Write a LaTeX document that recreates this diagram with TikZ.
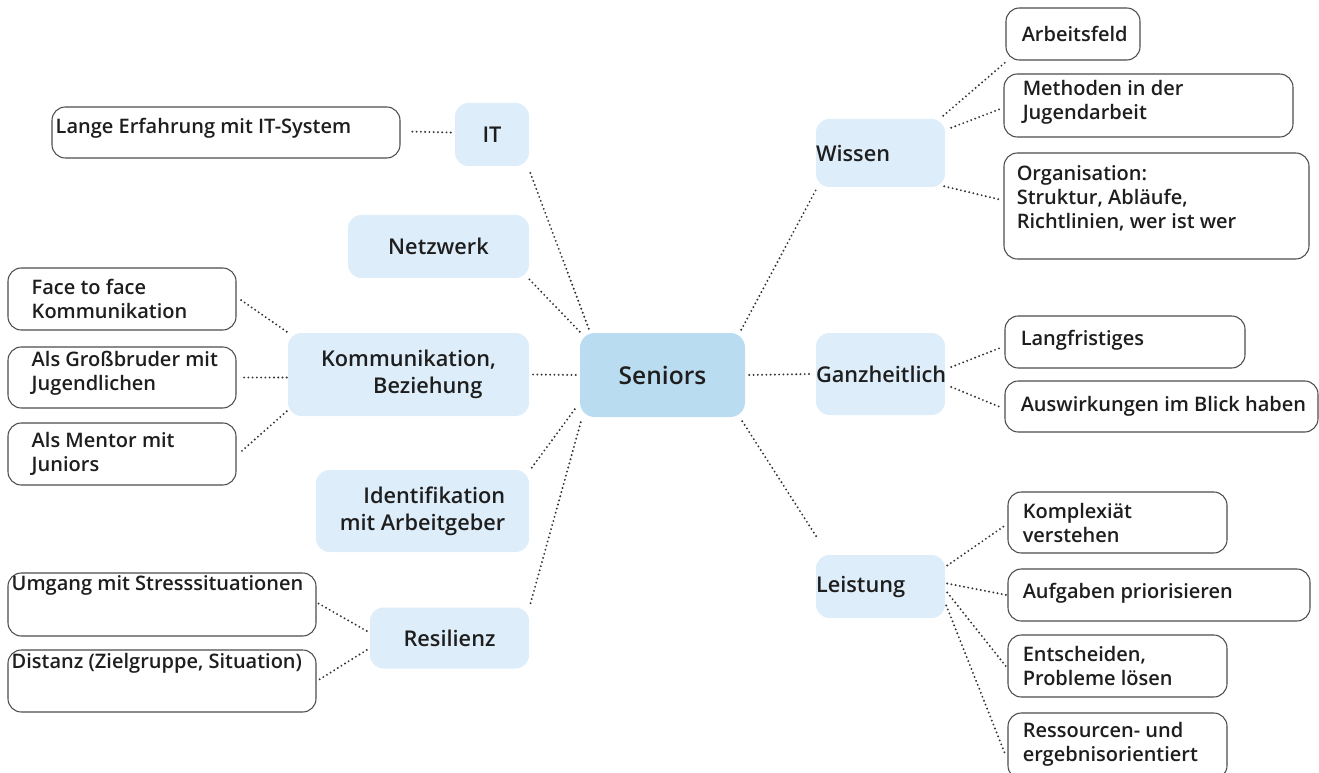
\documentclass[tikz,border=0pt]{standalone}
\usepackage{fontspec}
\IfFontExistsTF{Open Sans Semibold}{\setmainfont{Open Sans}[BoldFont={Open Sans Semibold}]}{\setmainfont{Open Sans}}
\usetikzlibrary{calc}
\definecolor{cenfill}{HTML}{BADCF1}
\definecolor{lonefill}{HTML}{DEEDFA}
\definecolor{txt}{HTML}{1E1E1E}
\definecolor{conncol}{HTML}{333333}
\newcommand\leafnode[8]{%
  \node[leafbox, bsz={#4}{#5}] (#1) at (#2,#3) {};
  \node[leaftext, anchor=west] (#1t) at ($(#1.west)+(#6,#7)$) {#8};}
\begin{document}
\begin{tikzpicture}[x=0.75pt,y=-0.75pt,
  every node/.style={text=txt},
  bsz/.style 2 args={minimum width=#1*0.75pt, minimum height=#2*0.75pt},
  center/.style={fill=cenfill, rounded corners=11pt, inner sep=0pt, font=\bfseries\fontsize{18.4}{22}\selectfont},
  lone/.style={fill=lonefill, rounded corners=10pt, inner sep=0pt, font=\bfseries\fontsize{16.3}{20}\selectfont},
  loneL/.style 2 args={lone, align=left, text width=(#1-30)*0.75pt, minimum height=#2*0.75pt},
  leafbox/.style={draw=black!70, line width=0.8pt, fill=white, rounded corners=10pt, inner sep=0pt},
  leaftext/.style={inner sep=0pt, align=left, font=\bfseries\fontsize{15}{18}\selectfont},
  conn/.style={draw=conncol, line width=1.6pt, dash pattern=on 0pt off 3.2pt, line cap=round}
]
\useasboundingbox (0,0) rectangle (1319,773);

% centre
\node[center, bsz={165}{84}] (sen) at (662.5,375) {Seniors};

% left level one
\node[lone, bsz={74}{63}] (it) at (492,134.5) {IT};
\node[lone, bsz={181}{63}] (netz) at (438.5,246.5) {Netzwerk};
\node[lone, bsz={241}{83}, align=left] (komm) at (408.5,374.5) {Kommunikation,\\\hspace*{2.4em}Beziehung};
\node[lone, bsz={213}{82}, align=right] (ident) at (422.5,511) {Identifikation\\mit Arbeitgeber};
\node[lone, bsz={159}{61}] (resil) at (449.5,638) {Resilienz};

% right level one
\node[loneL={159}{68}] (wiss) at (880.5,153) {Wissen};
\node[loneL={159}{82}] (ganz) at (880.5,374) {Ganzheitlich};
\node[loneL={159}{63}] (leist) at (880.5,586.5) {Leistung};

% left leaves
\leafnode{lange}{226}{132.5}{348}{51}{4}{-4}{Lange Erfahrung mit IT-System}
\leafnode{face}{122}{299}{228}{62}{24}{0}{Face to face\\Kommunikation}
\leafnode{gross}{122}{377.5}{228}{61}{24}{-4}{Als Großbruder mit\\Jugendlichen}
\leafnode{mentor}{122}{454}{228}{62}{24}{0}{Als Mentor mit\\Juniors}
\leafnode{umg}{162}{604.5}{308}{63}{4}{-19}{Umgang mit Stresssituationen}
\leafnode{dist}{162}{681}{308}{62}{4}{-18}{Distanz (Zielgruppe, Situation)}

% right leaves
\leafnode{arbf}{1073}{34}{134}{52}{16}{0}{Arbeitsfeld}
\leafnode{meth}{1148.5}{105.5}{289}{63}{19}{-3}{Methoden in der\\Jugendarbeit}
\leafnode{orga}{1156.5}{206}{305}{106}{13}{-8}{Organisation:\\Struktur, Abläufe,\\Richtlinien, wer ist wer}
\leafnode{lang}{1125}{342}{240}{52}{16}{-2}{Langfristiges}
\leafnode{ausw}{1161.5}{406.5}{313}{51}{16}{0}{Auswirkungen im Blick haben}
\leafnode{kompl}{1117.5}{522.5}{219}{61}{15}{0}{Komplexiät\\verstehen}
\leafnode{aufg}{1159}{595}{302}{52}{15}{-2}{Aufgaben priorisieren}
\leafnode{entsch}{1117.5}{666}{219}{62}{15}{0}{Entscheiden,\\Probleme lösen}
\leafnode{ress}{1117.5}{746}{219}{66}{15}{-2}{Ressourcen- und\\ergebnisorientiert}

% centre to level one
\draw[conn] ($(sen.north west)+(9,-4)$) -- ($(it.south east)+(0,4)$);
\draw[conn] ($(sen.north west)+(0,-1)$) -- ($(netz.south east)+(0,1)$);
\draw[conn] ($(sen.west)+(-4,0)$) -- ($(komm.east)+(3,0)$);
\draw[conn] ($(sen.south west)+(-5,-8)$) -- ($(ident.north east)+(1,0)$);
\draw[conn] ($(sen.south west)+(1,5)$) -- ($(resil.north east)+(1,-3)$);
\draw[conn] ($(sen.north east)+(-4,-3)$) -- ($(wiss.south west)+(0,3)$);
\draw[conn] ($(sen.east)+(4,0)$) -- ($(ganz.west)+(-3,0)$);
\draw[conn] ($(sen.south east)+(-3,4)$) -- ($(leist.north west)+(2,-16)$);

% level one to leaves
\draw[conn] ($(it.west)+(-4,-2)$) -- ($(lange.east)+(8,-1)$);
\draw[conn] ($(komm.north west)+(-1,-1)$) -- ($(face.east)+(3,0)$);
\draw[conn] ($(komm.west)+(-1,3)$) -- ($(gross.east)+(4,0)$);
\draw[conn] ($(komm.south west)+(-1,-5)$) -- ($(mentor.east)+(3,-1)$);
\draw[conn] ($(resil.west)+(-3,-7)$) -- ($(umg.east)+(2,-1)$);
\draw[conn] ($(resil.west)+(-3,12)$) -- ($(dist.east)+(2,-1)$);

\draw[conn] ($(wiss.north east)+(-2,-3)$) -- ($(arbf.south west)+(2,0)$);
\draw[conn] ($(wiss.north east)+(6,9)$) -- ($(meth.west)+(-2,3)$);
\draw[conn] ($(wiss.south east)+(-1,-1)$) -- ($(orga.west)+(-2,-6)$);
\draw[conn] ($(ganz.east)+(6,-7)$) -- ($(lang.west)+(-2,5)$);
\draw[conn] ($(ganz.east)+(6,13)$) -- ($(ausw.west)+(-2,1.5)$);
\draw[conn] ($(leist.east)+(2,-21)$) -- ($(kompl.west)+(-1,2)$);
\draw[conn] ($(leist.east)+(2,-3)$) -- ($(aufg.west)+(-1,0)$);
\draw[conn] ($(leist.east)+(2,6)$) -- ($(entsch.west)+(-1,1)$);
\draw[conn] ($(leist.east)+(1,19)$) -- ($(ress.west)+(-2,9)$);
\end{tikzpicture}
\end{document}
